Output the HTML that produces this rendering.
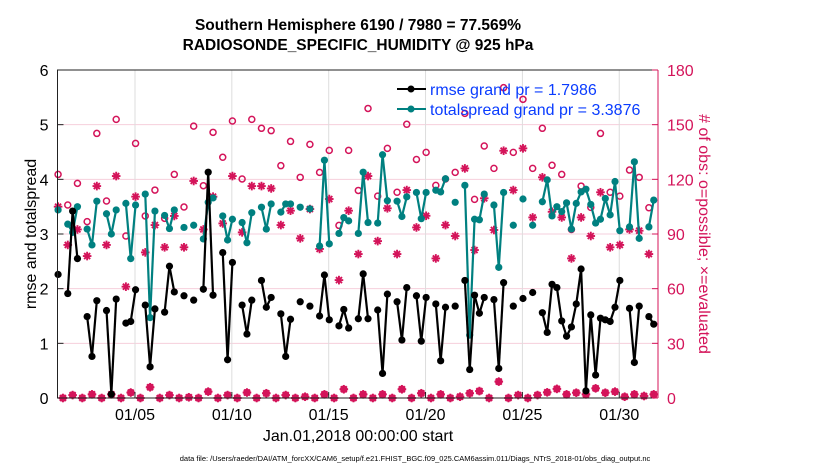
<!DOCTYPE html>
<html><head><meta charset="utf-8"><style>
html,body{margin:0;padding:0;background:#fff;}
svg{display:block;font-family:"Liberation Sans",Arial,sans-serif;}
</style></head><body>
<svg id="chart" width="830" height="470" viewBox="0 0 830 470" xmlns="http://www.w3.org/2000/svg">
<g id="grid"></g>
<g id="marks"></g>
<g id="axes"></g>
<text x="358" y="30" text-anchor="middle" font-size="15.5" font-weight="bold">Southern Hemisphere 6190 / 7980 = 77.569%</text>
<text x="358" y="50" text-anchor="middle" font-size="15.5" font-weight="bold">RADIOSONDE_SPECIFIC_HUMIDITY @ 925 hPa</text>
<text transform="translate(36,234) rotate(-90)" text-anchor="middle" font-size="16">rmse and totalspread</text>
<text transform="translate(699,234) rotate(90)" text-anchor="middle" font-size="16" fill="#d4145a"># of obs: o=possible; ×=evaluated</text>
<text x="358" y="441" text-anchor="middle" font-size="16">Jan.01,2018 00:00:00 start</text>
<text x="415" y="461" text-anchor="middle" font-size="7.5">data file: /Users/raeder/DAI/ATM_forcXX/CAM6_setup/f.e21.FHIST_BGC.f09_025.CAM6assim.011/Diags_NTrS_2018-01/obs_diag_output.nc</text>
<g>
<line x1="397" y1="89" x2="426" y2="89" stroke="#000" stroke-width="2"/>
<circle cx="411" cy="89" r="3.5" fill="#000"/>
<text x="430" y="95" font-size="16" fill="#0a3cff">rmse grand pr = 1.7986</text>
<line x1="397" y1="109" x2="426" y2="109" stroke="#008080" stroke-width="2"/>
<circle cx="411" cy="109" r="3.5" fill="#008080"/>
<text x="430" y="115" font-size="16" fill="#0a3cff">totalspread grand pr = 3.3876</text>
</g>
</svg>
<script>
const N = 124;
const yTicks = [0,1,2,3,4,5,6];
const y2Ticks = [0,30,60,90,120,150,180];
const xTickDays = [4,9,14,19,24,29];
const xTickLabels = ["01/05","01/10","01/15","01/20","01/25","01/30"];
const rmseVals = {0:2.26,2:1.91,3:3.42,4:2.55,6:1.49,7:0.76,8:1.78,10:1.60,11:0.07,12:1.81,14:1.37,15:1.40,16:1.98,18:1.70,19:0.57,20:1.63,22:1.57,23:2.41,24:1.94,26:1.87,28:1.79,30:1.99,31:4.13,32:1.88,34:2.66,35:0.70,36:2.48,38:1.70,39:1.17,40:1.79,42:2.15,43:1.66,44:1.84,46:1.54,47:0.76,48:1.44,50:1.76,52:1.68,54:1.50,55:2.25,56:1.43,58:1.32,59:1.62,60:1.28,62:1.45,63:2.27,64:1.45,66:1.61,67:0.45,68:1.90,70:1.76,71:1.06,72:2.02,74:1.87,75:1.04,76:1.84,78:1.72,79:0.68,80:1.66,82:1.68,84:2.15,85:0.52,86:1.88,87:1.55,88:1.84,90:1.80,91:0.54,92:2.11,94:1.68,96:1.82,98:1.93,100:1.56,101:1.20,102:2.08,103:2.02,104:1.41,105:1.13,106:1.30,107:1.72,108:2.36,109:0.13,110:1.52,111:0.42,112:1.46,113:1.43,114:1.40,115:1.66,116:2.15,118:1.64,119:0.65,120:1.68,122:1.49,123:1.35};
const spreadVals = {0:3.44,2:3.18,3:3.03,4:3.50,6:3.09,7:2.80,8:3.60,10:3.37,11:3.00,12:3.44,14:3.56,15:2.55,16:3.53,18:3.73,19:1.47,20:3.42,22:3.34,23:3.10,24:3.44,26:3.12,28:3.16,30:2.91,31:3.58,32:3.66,34:3.33,35:2.89,36:3.27,38:3.21,39:2.84,40:3.39,42:3.49,43:3.09,44:3.55,46:3.40,47:3.55,48:3.55,50:3.49,52:3.46,54:2.78,55:4.35,56:2.82,58:3.01,59:3.30,60:3.24,62:3.01,63:4.13,64:3.21,66:3.20,67:4.45,68:3.61,70:3.60,71:3.32,72:3.68,74:3.76,75:3.28,76:3.76,78:3.80,79:3.77,80:4.01,82:3.58,84:3.89,85:1.15,86:3.27,87:3.26,88:3.73,90:3.53,91:2.39,92:3.76,94:3.16,96:3.64,98:3.16,100:3.59,101:3.99,102:3.33,103:3.50,104:3.41,105:3.57,106:3.09,107:3.56,108:3.77,109:3.82,110:3.54,111:3.20,112:3.27,113:3.65,114:3.35,115:3.96,116:3.06,118:3.13,119:4.32,120:2.92,122:3.13,123:3.62};
const possibleVals = {0:122.7,2:105.9,4:117.8,6:96.8,8:145.2,10:108.1,12:152.9,14:88.9,16:139.7,18:99.9,20:114.1,22:98.6,24:122.7,26:104.8,28:149.2,30:116.5,32:145.8,34:132.1,36:152.0,38:120.2,40:152.9,42:148.0,44:146.7,46:127.5,48:140.8,50:121.1,52:139.2,54:123.8,56:135.9,58:94.7,60:135.9,62:113.9,64:158.9,66:110.8,68:137.0,70:112.9,72:150.2,74:130.9,76:134.8,78:116.7,80:120.2,82:123.8,84:156.2,86:109.0,88:138.3,90:126.0,92:170.3,94:134.8,96:163.9,98:126.0,100:148.0,102:127.7,104:122.7,106:92.5,108:116.3,110:104.6,112:145.2,114:112.9,116:110.8,118:125.1,120:121.1,122:104.4};
const evaluatedVals = {0:105.0,2:84.0,4:92.5,6:77.9,8:116.3,10:84.0,12:121.8,14:61.1,16:110.5,18:79.9,20:94.9,22:82.7,24:99.9,26:82.7,28:119.1,30:92.5,32:110.5,34:95.8,36:121.8,38:90.9,40:116.3,42:116.3,44:115.0,46:94.9,48:102.8,50:87.6,52:103.7,54:81.8,56:109.2,58:64.7,60:102.8,62:79.0,64:121.8,66:86.1,68:104.1,70:79.0,72:114.1,74:93.6,76:100.0,78:76.6,80:94.9,82:88.9,84:126.0,86:81.2,88:109.6,90:92.2,92:135.7,94:114.1,96:137.0,98:99.1,100:121.1,102:102.2,104:99.1,106:76.6,108:99.1,110:88.9,112:112.9,114:82.7,116:84.0,118:92.5,120:91.8,122:79.0};
const lowCounts = {3:1.6,7:2,11:2,15:3,19:5.9,23:1.6,27:0.4,31:3.5,35:1.6,39:3,43:2.6,47:1.6,51:0.7,55:2,59:4.8,63:2,67:2,71:4.8,75:2.6,79:2,83:0.7,85:2.6,87:3.8,91:9,95:1.6,99:1.6,101:3.1,103:5,105:2,107:2.9,109:2,111:5.3,113:2.9,115:3.5,117:0.7,119:2,121:1.1,123:2};

const X0=57.5, X1=658, Y0=398, Y1=70;
const xs = d => X0 + (d/31)*(X1-X0);
const xSlot = s => xs(s/4 + 0.03);
const ys = v => Y0 - (v/6)*(Y0-Y1);
const y2s = c => Y0 - (c/180)*(Y0-Y1);
const NS="http://www.w3.org/2000/svg";
function mk(tag, attrs, parent){const e=document.createElementNS(NS,tag);for(const k in attrs)e.setAttribute(k,attrs[k]);parent.appendChild(e);return e;}
const grid=document.getElementById('grid'), marks=document.getElementById('marks'), axes=document.getElementById('axes');

yTicks.forEach(t=>{ if(t>0&&t<6){ const l=mk('line',{x1:X0,x2:X1,y1:ys(t),y2:ys(t),stroke:'#f6cfdc','stroke-width':1},grid);
 }});
xTickDays.forEach(d=>{ const l=mk('line',{x1:xs(d),x2:xs(d),y1:Y1,y2:Y0,stroke:'#dddddd','stroke-width':1},grid);
 });

const C='#d4145a';
function star(cx,cy){const g=mk('g',{stroke:C,'stroke-width':1.9},marks);
 
const r=4.3;[[r,0],[0,r],[r*0.7,r*0.7],[r*0.7,-r*0.7]].forEach(p=>mk('line',{x1:cx-p[0],y1:cy-p[1],x2:cx+p[0],y2:cy+p[1]},g));}

for(let s=0;s<N;s++){
  let pc = possibleVals[s], ev = evaluatedVals[s];
  if(pc===undefined){ pc = lowCounts[s]||0; ev = pc; }
  const o=mk('circle',{cx:xSlot(s),cy:y2s(pc),r:3,fill:'none',stroke:C,'stroke-width':1.5},marks);
   
  star(xSlot(s),y2s(ev));
}
function series(vals,color,name){
  for(let s=0;s<N-1;s++){ if(vals[s]!==undefined && vals[s+1]!==undefined){
    const l=mk('line',{x1:xSlot(s),y1:ys(vals[s]),x2:xSlot(s+1),y2:ys(vals[s+1]),stroke:color,'stroke-width':2.2},marks);
     }}
  for(let s=0;s<N;s++){ if(vals[s]!==undefined){
    const c=mk('circle',{cx:xSlot(s),cy:ys(vals[s]),r:3.6,fill:color},marks);
     }}
}
series(spreadVals,'#008080','totalspread');
series(rmseVals,'#000000','rmse');

mk('path',{d:`M${X1},${Y1} H${X0} V${Y0} H${X1}`,fill:'none',stroke:'#222','stroke-width':1},axes);
mk('line',{x1:X1,y1:Y1,x2:X1,y2:Y0,stroke:C,'stroke-width':1},axes);
yTicks.forEach(t=>{ mk('line',{x1:X0,x2:X0+6,y1:ys(t),y2:ys(t),stroke:'#222'},axes);
 const tx=mk('text',{x:X0-9,y:ys(t)+6,'text-anchor':'end','font-size':16},axes); tx.textContent=t;
  });
y2Ticks.forEach(t=>{ mk('line',{x1:X1-6,x2:X1,y1:y2s(t),y2:y2s(t),stroke:C},axes);
 const tx=mk('text',{x:X1+9,y:y2s(t)+6,'font-size':16,fill:C},axes); tx.textContent=t;
  });
xTickDays.forEach((d,i)=>{ mk('line',{x1:xs(d),x2:xs(d),y1:Y0,y2:Y0-6,stroke:'#222'},axes);
 const tx=mk('text',{x:xs(d),y:Y0+22,'text-anchor':'middle','font-size':16},axes); tx.textContent=xTickLabels[i];
  });
</script>
</body></html>
